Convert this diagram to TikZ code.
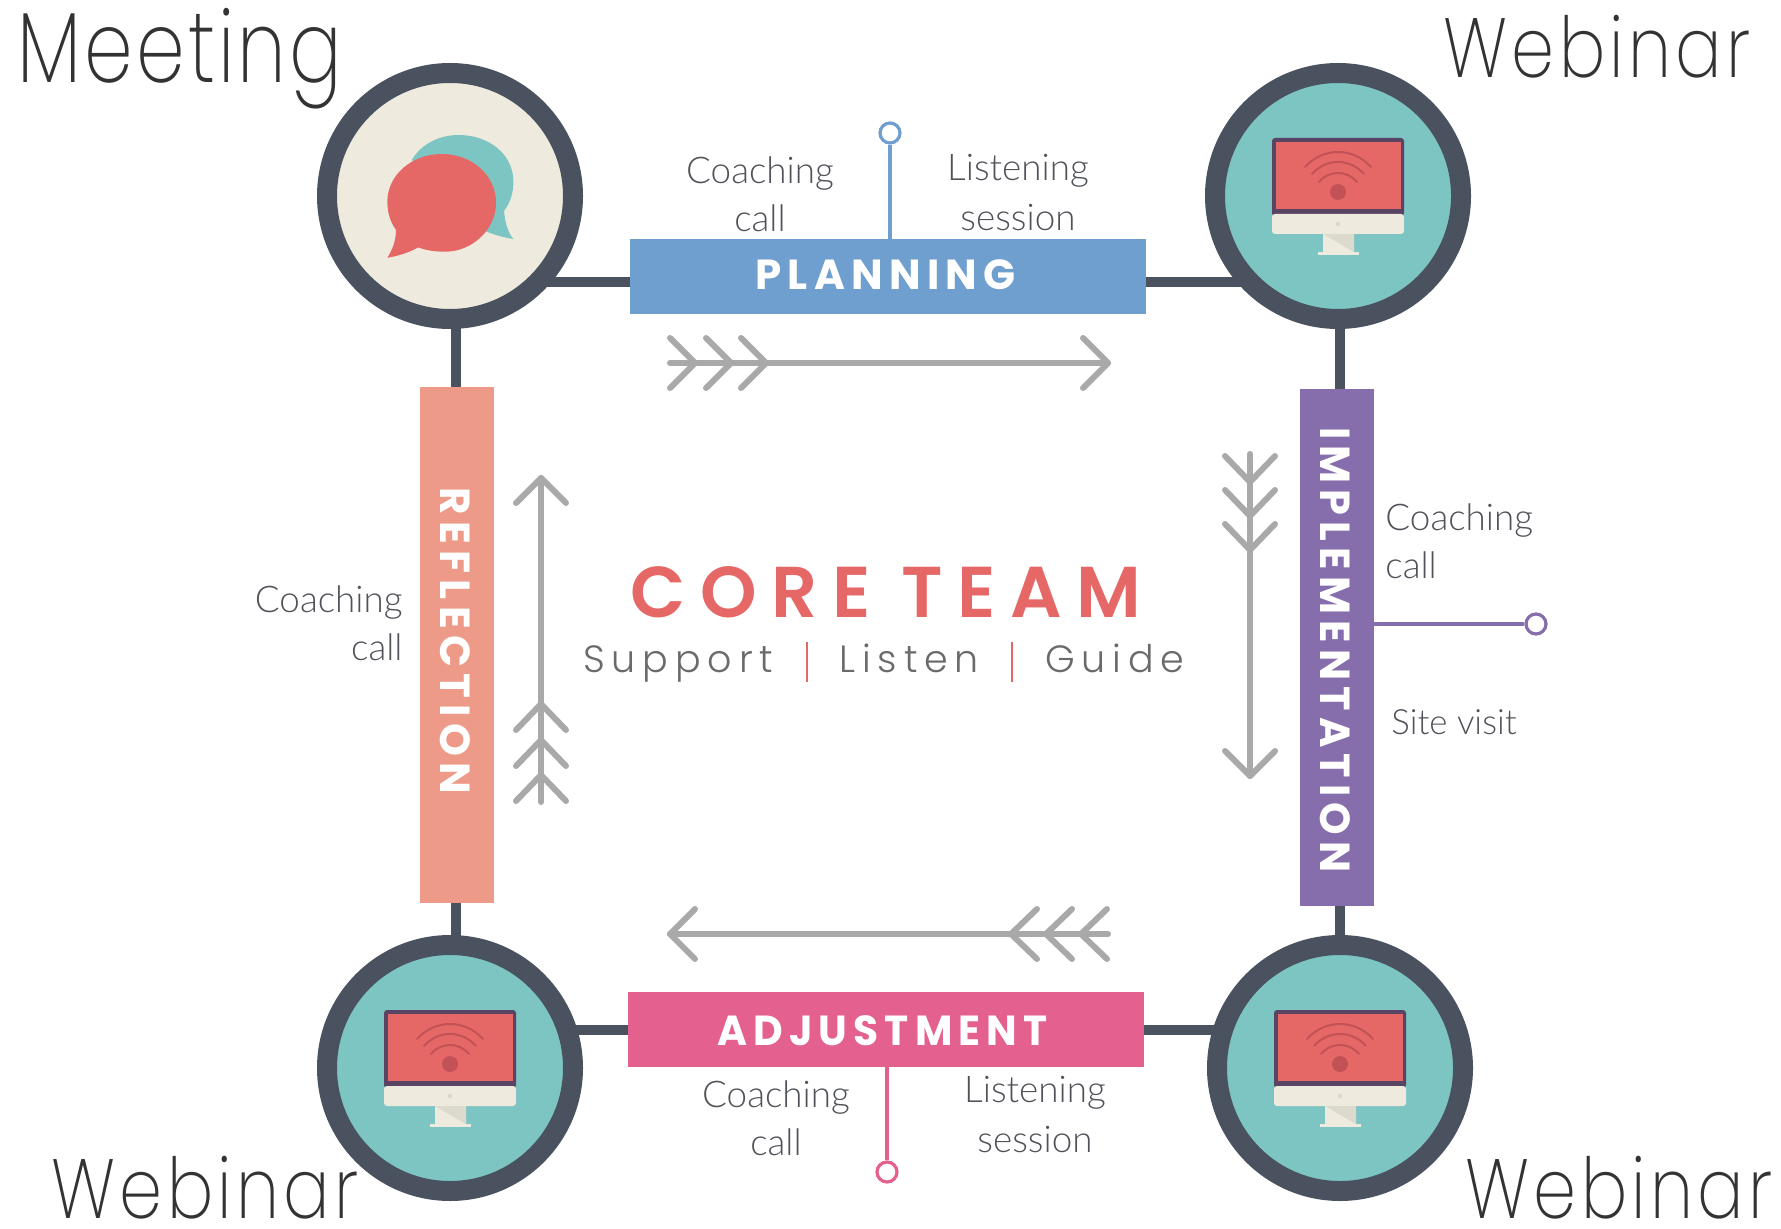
\documentclass[tikz,border=0pt]{standalone}
\usepackage{fontspec}
\setmainfont{Lato Light}
\newfontfamily\headfont[LetterSpace=15]{Poppins Bold}
\newfontfamily\coreFont[LetterSpace=20]{Poppins SemiBold}
\newfontfamily\subFont[LetterSpace=18]{Poppins Light}
\newfontfamily\meetFont[LetterSpace=4]{Poppins ExtraLight}
\newfontfamily\webFont[LetterSpace=6.3]{Poppins ExtraLight}
\definecolor{ringc}{HTML}{4A5260}
\definecolor{creamc}{HTML}{EEEADD}
\definecolor{tealc}{HTML}{7DC5C3}
\definecolor{redc}{HTML}{E66866}
\definecolor{darkred}{HTML}{C25256}
\definecolor{bluec}{HTML}{6F9FCF}
\definecolor{purplec}{HTML}{866EAD}
\definecolor{pinkc}{HTML}{E4608E}
\definecolor{salmonc}{HTML}{EE9A88}
\definecolor{arrowc}{HTML}{A9A9A9}
\definecolor{textc}{HTML}{4F5258}
\definecolor{bigc}{HTML}{333333}
\definecolor{subc}{HTML}{6A6A6A}
\definecolor{scrborder}{HTML}{5A4464}
\definecolor{standc}{HTML}{DCD9CD}
\tikzset{
  x=0.5pt,y=-0.5pt,
  hub/.style={circle,draw=ringc,line width=10pt,minimum size=123pt,inner sep=0pt},
  barbox/.style={rectangle,minimum width=258pt,minimum height=37.5pt,inner sep=0pt},
  vbarbox/.style={rectangle,minimum width=37pt,minimum height=258pt,inner sep=0pt},
  barlabel/.style={inner sep=0pt,text=white,font=\headfont\fontsize{21}{24}\selectfont},
  link/.style={draw=ringc,line width=5pt},
  arrowline/.style={draw=arrowc,line width=3pt,line cap=round,line join=round},
  pinline/.style={line width=1.6pt},
  pinhead/.style={circle,fill=white,line width=1.6pt,minimum size=10pt,inner sep=0pt},
  meetword/.style={anchor=base west,inner sep=0pt,text=bigc,xscale=0.78,font=\meetFont\fontsize{50}{60}\selectfont},
  webword/.style={anchor=base west,inner sep=0pt,text=bigc,xscale=0.82,font=\webFont\fontsize{42}{60}\selectfont},
  small/.style={inner sep=0pt,text=textc,align=center,font=\fontsize{18.4}{24}\selectfont,anchor=base},
  listen/.style={inner sep=0pt,text=textc,align=center,font=\fontsize{18.4}{25}\selectfont,anchor=base},
  subword/.style={anchor=base west,inner sep=0pt,text=subc,font=\subFont\fontsize{19}{24}\selectfont},
  pics/monitor/.style={code={
    \fill[scrborder,rounded corners=1.5pt] (-66,-58) rectangle (66,20);
    \fill[redc] (-62,-54) rectangle (63,13);
    \fill[creamc,rounded corners=1.5pt] (-66,18) -- (66,18) -- (66,38) -- (-66,38) -- cycle;
    \fill[creamc] (-15,38) rectangle (16,56);
    \fill[standc] (-15,38) -- (16,38) -- (16,56) -- cycle;
    \fill[creamc] (-20,56) rectangle (21,59);
    \fill[standc] (0,28) circle[radius=2.3];
    \fill[darkred] (0,-4) circle[radius=8];
    \draw[darkred,line width=1pt,line cap=round] (33,-29) .. controls (15,-49) and (-15,-49) .. (-33,-29);
    \draw[darkred,line width=1pt,line cap=round] (26,-22) .. controls (12,-38) and (-12,-38) .. (-26,-22);
    \draw[darkred,line width=1pt,line cap=round] (19,-14) .. controls (9,-26) and (-9,-26) .. (-19,-14);
  }}
}
\begin{document}
\begin{tikzpicture}
\useasboundingbox (0,0) rectangle (1781,1229);
% links
\coordinate (tlc) at (450,196);
\coordinate (trc) at (1338,196);
\coordinate (blc) at (450,1068);
\coordinate (brc) at (1340,1068);
\draw[link] (540,282) -- (640,282);
\draw[link] (1140,282) -- (1250,282);
\draw[link] (560,1030) -- (640,1030);
\draw[link] (1140,1030) -- (1230,1030);
\draw[link] (456,320) -- (456,395);
\draw[link] (456,895) -- (456,945);
\draw[link] (1340,320) -- (1340,395);
\draw[link] (1340,900) -- (1340,945);
% hubs
\node[hub,fill=creamc] (meeting) at (tlc) {};
\node[hub,fill=tealc] (webtr) at (trc) {};
\node[hub,fill=tealc] (webbl) at (blc) {};
\node[hub,fill=tealc] (webbr) at (brc) {};
\pic at (trc) {monitor};
\pic at (blc) {monitor};
\pic at (brc) {monitor};
\begin{scope}[shift={(300,40)},x=0.1667pt,y=-0.1667pt]
\fill[tealc] (335,360) .. controls (365,310) and (420,285) .. (475,285) .. controls (570,285) and (640,345) .. (640,425) .. controls (640,460) and (630,490) .. (612,512) .. controls (615,550) and (625,580) .. (640,597) .. controls (610,592) and (585,585) .. (560,575) -- (450,450) -- cycle;
\fill[redc] (425,342) .. controls (515,342) and (588,405) .. (588,488) .. controls (588,570) and (515,635) .. (435,635) .. controls (405,635) and (378,631) .. (355,622) .. controls (330,636) and (295,648) .. (262,653) .. controls (278,628) and (288,600) .. (288,570) .. controls (270,545) and (262,515) .. (262,485) .. controls (262,405) and (335,342) .. (425,342) -- cycle;
\end{scope}
% bars
\node[barbox,fill=bluec] (planning) at (888,276.5) {};
\node[barbox,fill=pinkc] (adjust) at (886,1029.5) {};
\node[vbarbox,fill=salmonc] (reflect) at (457,645) {};
\node[vbarbox,fill=purplec] (impl) at (1337,647.5) {};
\node[barlabel] (planningT) at (885.5,275) {PLANNING};
\node[barlabel,xscale=0.97] (adjustT) at (882.5,1031) {ADJUSTMENT};
\node[barlabel,rotate=-90] (reflectT) at (455,641) {REFLECTION};
\node[barlabel,rotate=-90,xscale=0.985] (implT) at (1335,650) {IMPLEMENTATION};
% pins
\node[pinhead,draw=bluec] (pinP) at (890,133) {};
\draw[bluec,pinline] (planning.north -| pinP) -- (pinP);
\node[pinhead,draw=pinkc] (pinA) at (887,1172) {};
\draw[pinkc,pinline] (adjust.south -| pinA) -- (pinA);
\node[pinhead,draw=purplec] (pinI) at (1536,624) {};
\draw[purplec,pinline] (impl.east |- pinI) -- (pinI);
% arrows
\coordinate (a1s) at (670,363); \coordinate (a1e) at (1108,363);
\draw[arrowline] (a1s) -- (a1e);
\draw[arrowline] (1083,338) -- (a1e) -- (1083,388);
\foreach \q in {695,731,766} \draw[arrowline] (\q-25,338) -- (\q,363) -- (\q-25,388);
\coordinate (a2s) at (1250,454); \coordinate (a2e) at (1250,776);
\draw[arrowline] (a2s) -- (a2e);
\draw[arrowline] (1225,751) -- (a2e) -- (1275,751);
\foreach \q in {482,516,550} \draw[arrowline] (1225,\q-26) -- (1250,\q) -- (1275,\q-26);
\coordinate (a3s) at (1108,934); \coordinate (a3e) at (670,934);
\draw[arrowline] (a3s) -- (a3e);
\draw[arrowline] (695,909) -- (a3e) -- (695,959);
\foreach \q in {1011,1046,1081} \draw[arrowline] (\q+26,909) -- (\q,934) -- (\q+26,959);
\coordinate (a4s) at (541,802); \coordinate (a4e) at (541,478);
\draw[arrowline] (a4s) -- (a4e);
\draw[arrowline] (516,503) -- (a4e) -- (566,503);
\foreach \q in {704,740,775} \draw[arrowline] (516,\q+26) -- (541,\q) -- (566,\q+26);
% big words
\node[meetword] (w1) at (17,83) {Meeting};
\node[webword] (w2) at (1443,78) {Webinar};
\node[webword] (w3) at (51,1218) {Webinar};
\node[webword] (w4) at (1465,1218) {Webinar};
% centre
\node[anchor=base,inner sep=0pt,text=redc,font=\coreFont\fontsize{36}{40}\selectfont] (core) at (886,617) {CORE TEAM};
\node[subword] (s1) at (583,672) {Support};
\node[subword] (s2) at (839,672) {Listen};
\node[subword] (s3) at (1045,672) {Guide};
\coordinate (p1t) at (807,642); \coordinate (p1b) at (807,682);
\coordinate (p2t) at (1012,642); \coordinate (p2b) at (1012,682);
\draw[redc,line width=1pt] (p1t) -- (p1b);
\draw[redc,line width=1pt] (p2t) -- (p2b);
% small labels
\node[small] (t1) at (760,232) {Coaching\\call};
\node[listen] (t2) at (1018,231) {Listening\\session};
\node[small,align=left,anchor=base west] (t3) at (1385,578) {Coaching\\call};
\node[small,anchor=base west,font=\fontsize{17.4}{24}\selectfont] (t4) at (1391,734) {Site visit};
\node[small,align=right,anchor=base east] (t5) at (403,660) {Coaching\\call};
\node[small] (t6) at (776,1155) {Coaching\\call};
\node[listen] (t7) at (1035,1152) {Listening\\session};
\end{tikzpicture}
\end{document}
